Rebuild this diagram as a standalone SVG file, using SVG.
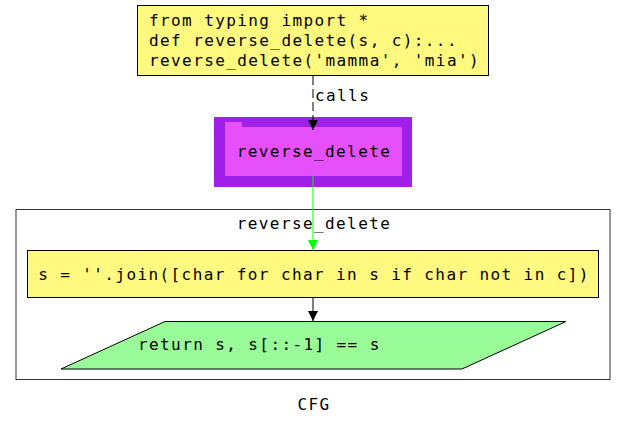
<svg xmlns="http://www.w3.org/2000/svg" width="627" height="427" viewBox="0 0 627 427">
<defs>
<style>
text{font-family:"DejaVu Sans Mono","Liberation Mono",monospace;font-size:16px;letter-spacing:1.4px;fill:#000}
.mid{text-anchor:middle}
.edge{fill:none;stroke-width:1}
</style>
<marker id="ab" viewBox="0 0 10 10" refX="10" refY="5" markerWidth="10" markerHeight="17" markerUnits="userSpaceOnUse" orient="auto"><path d="M0,0 L10,5 L0,10 z" fill="#000"/></marker>
<marker id="ag" viewBox="0 0 10 10" refX="10" refY="5" markerWidth="10" markerHeight="17" markerUnits="userSpaceOnUse" orient="auto"><path d="M0,0 L10,5 L0,10 z" fill="#00ff00"/></marker>
</defs>
<rect width="627" height="427" fill="#fff"/>
<g id="cluster">
<rect x="16" y="209.5" width="594" height="170" fill="#fff" stroke="#333" stroke-width="1"/>
<text class="mid" x="314" y="229">reverse_delete</text>
</g>
<g id="n_source">
<rect x="137.5" y="5.5" width="351" height="70" fill="#fff97f" stroke="#000"/>
<text x="149" y="26">from typing import *</text>
<text x="149" y="46">def reverse_delete(s, c):...</text>
<text x="149" y="66">reverse_delete('mamma', 'mia')</text>
</g>
<g id="n_call">
<rect x="214" y="117" width="198" height="70" fill="#a01fe9"/>
<path d="M225,176 V122 H242 V127 H402 V176 Z" fill="#e550fa"/>
<text class="mid" x="314" y="157">reverse_delete</text>
</g>
<g id="n_assign">
<rect x="27.5" y="250.5" width="571" height="47" fill="#fff97f" stroke="#000"/>
<text class="mid" x="314" y="280">s = ''.join([char for char in s if char not in c])</text>
</g>
<g id="n_return">
<polygon points="61,369 165,321.5 566,321.5 462,369" fill="#98fb98" stroke="#000"/>
<text x="138" y="350">return s, s[::-1] == s</text>
</g>
<g id="connectors">
<line class="edge" x1="313" y1="76" x2="313" y2="130" stroke="#000" stroke-dasharray="9,4" marker-end="url(#ab)"/>
<text x="315" y="101">calls</text>
<line class="edge" x1="313" y1="176" x2="313" y2="250" stroke="#00ff00" marker-end="url(#ag)"/>
<line class="edge" x1="313" y1="298" x2="313" y2="321" stroke="#000" marker-end="url(#ab)"/>
</g>
<text class="mid" x="314" y="410">CFG</text>
</svg>
